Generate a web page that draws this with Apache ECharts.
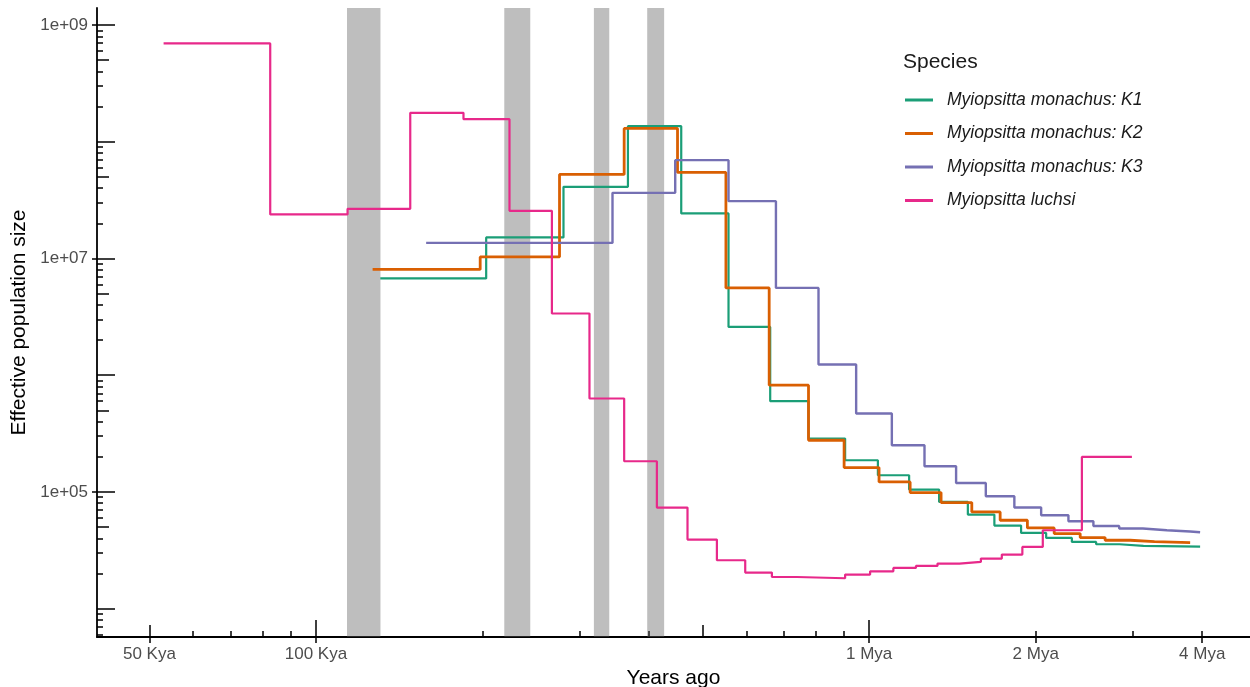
<!DOCTYPE html>
<html>
<head>
<meta charset="utf-8">
<script src="https://cdn.jsdelivr.net/npm/echarts@6/dist/echarts.min.js"></script>
<style>
html,body{margin:0;padding:0;background:#fff;}
#chart{width:1250px;height:687px;}
</style>
</head>
<body>
<div id="chart"></div>
<script>
// ---------------- DATA ----------------
// Step breakpoints (years ago): n+1 edges for n epochs; Ne per epoch
const seriesNames = ['Myiopsitta monachus: K1', 'Myiopsitta monachus: K2', 'Myiopsitta monachus: K3', 'Myiopsitta luchsi'];
const seriesColors = ['#1B9E77', '#D95F02', '#7570B3', '#E7298A'];

const timeK1 = [130700, 203100, 280200, 366400, 457400, 556900, 662400, 776900, 904800, 1037000, 1181000, 1338000, 1508000, 1684000, 1882000, 2089000, 2325000, 2572000, 2834000, 3132000, 3965000];
const neK1 = [6.740e6, 1.514e7, 4.109e7, 1.361e8, 2.430e7, 2.593e6, 5.983e5, 2.866e5, 1.867e5, 1.389e5, 1.047e5, 8.20e4, 6.394e4, 5.147e4, 4.447e4, 4.030e4, 3.723e4, 3.558e4, 3.441e4, 3.401e4];

const timeK2 = [126600, 198100, 275600, 360700, 450400, 550900, 659600, 776900, 901000, 1042000, 1186000, 1349000, 1533000, 1725000, 1932000, 2160000, 2407000, 2670000, 2964000, 3279000, 3804000];
const neK2 = [8.050e6, 1.032e7, 5.248e7, 1.301e8, 5.459e7, 5.597e6, 8.206e5, 2.771e5, 1.617e5, 1.217e5, 9.87e4, 8.10e4, 6.731e4, 5.714e4, 4.909e4, 4.395e4, 4.061e4, 3.851e4, 3.753e4, 3.680e4];

const timeK3 = [158200, 343600, 446100, 556900, 678400, 809900, 947300, 1099000, 1259000, 1436000, 1625000, 1830000, 2046000, 2292000, 2543000, 2831000, 3124000, 3452000, 3804000, 3965000];
const neK3 = [1.360e7, 3.650e7, 6.958e7, 3.099e7, 5.597e6, 1.234e6, 4.694e5, 2.511e5, 1.659e5, 1.193e5, 9.177e4, 7.344e4, 6.306e4, 5.603e4, 5.107e4, 4.852e4, 4.691e4, 4.573e4, 4.510e4];

const timeLuchsi = [53040, 82670, 114060, 148070, 184800, 223800, 267000, 312200, 360700, 413300, 469500, 530600, 597000, 667100, 740300, 904800, 1004000, 1106000, 1215000, 1329000, 1456000, 1592000, 1737000, 1892000, 2060000, 2424000, 2985000];
const neLuchsi = [6.96e8, 2.384e7, 2.662e7, 1.770e8, 1.563e8, 2.559e7, 3.378e6, 6.31e5, 1.831e5, 7.344e4, 3.905e4, 2.595e4, 2.035e4, 1.866e4, 1.819e4, 1.956e4, 2.088e4, 2.229e4, 2.319e4, 2.432e4, 2.510e4, 2.685e4, 2.904e4, 3.375e4, 4.691e4, 1.993e5];

// Shaded periods (years ago)
const bandStarts = [113800, 219000, 318000, 397000];
const bandEnds = [130800, 244000, 339000, 426000];

// Axis ticks / labels
const xLabelValues = [50000, 100000, 1000000, 2000000, 4000000];
const xLabelTexts = ['50 Kya', '100 Kya', '1 Mya', '2 Mya', '4 Mya'];
const yLabelValues = [1e5, 1e7, 1e9];
const yLabelTexts = ['1e+05', '1e+07', '1e+09'];

const xMin = 40200, xMax = 4880000;
const yMin = 5710, yMax = 1.4e9;

// ---------------- BUILD ----------------
function minorTicks(lo, hi, mults) {
  const out = [];
  for (let e = 3; e <= 9; e++) {
    for (const m of mults) {
      const v = m * Math.pow(10, e);
      if (v >= lo && v <= hi) out.push(v);
    }
  }
  return out;
}
const decadeMult = [1], fiveMult = [5], otherMult = [2, 3, 4, 6, 7, 8, 9];

function stepData(times, ne) {
  return times.map((t, i) => [t, ne[Math.min(i, ne.length - 1)]]);
}
function lookup(values, texts) {
  return function (v) {
    for (let i = 0; i < values.length; i++) {
      if (Math.abs(Math.log10(v) - Math.log10(values[i])) < 1e-4) return texts[i];
    }
    return '';
  };
}

const FONT = '"Liberation Sans", Arial, Helvetica, sans-serif';
const tickStyle = { color: '#000', width: 1.5 };

function extraAxis(kind, ticks, len) {
  return {
    type: 'log', logBase: 10,
    min: kind === 'x' ? xMin : yMin, max: kind === 'x' ? xMax : yMax,
    position: kind === 'x' ? 'bottom' : 'left', offset: 0,
    axisLine: { show: false, onZero: false },
    axisTick: { show: true, inside: true, length: len, customValues: ticks, lineStyle: tickStyle },
    axisLabel: { show: false },
    splitLine: { show: false }, minorTick: { show: false }, minorSplitLine: { show: false }
  };
}

const xAxes = [
  {
    type: 'log', logBase: 10, min: xMin, max: xMax, position: 'bottom',
    name: 'Years ago', nameLocation: 'middle', nameGap: 27,
    nameTextStyle: { fontSize: 21, color: '#000', fontFamily: FONT },
    axisLine: { show: true, onZero: false, lineStyle: { color: '#000', width: 1.8 } },
    axisTick: { show: true, inside: false, length: 6, customValues: xLabelValues, lineStyle: tickStyle },
    axisLabel: { customValues: xLabelValues, formatter: lookup(xLabelValues, xLabelTexts), fontSize: 17, color: '#4d4d4d', fontFamily: FONT, margin: 9 },
    splitLine: { show: false }, minorTick: { show: false }
  },
  extraAxis('x', minorTicks(xMin, xMax, decadeMult), 17),
  extraAxis('x', minorTicks(xMin, xMax, fiveMult), 12),
  extraAxis('x', minorTicks(xMin, xMax, otherMult), 6)
];
const yAxes = [
  {
    type: 'log', logBase: 10, min: yMin, max: yMax, position: 'left',
    name: 'Effective population size', nameLocation: 'middle', nameGap: 64,
    nameTextStyle: { fontSize: 21, color: '#000', fontFamily: FONT },
    axisLine: { show: true, onZero: false, lineStyle: { color: '#000', width: 1.8 } },
    axisTick: { show: true, inside: false, length: 5, customValues: yLabelValues, lineStyle: tickStyle },
    axisLabel: { customValues: yLabelValues, formatter: lookup(yLabelValues, yLabelTexts), fontSize: 17, color: '#4d4d4d', fontFamily: FONT, margin: 9 },
    splitLine: { show: false }, minorTick: { show: false }
  },
  extraAxis('y', minorTicks(yMin, yMax, decadeMult), 18),
  extraAxis('y', minorTicks(yMin, yMax, fiveMult), 12),
  extraAxis('y', minorTicks(yMin, yMax, otherMult), 6)
];

const allTimes = [timeK1, timeK2, timeK3, timeLuchsi];
const allNe = [neK1, neK2, neK3, neLuchsi];
const widths = [2.2, 2.8, 2.4, 2.2];

const series = seriesNames.map((name, i) => ({
  name: name, type: 'line', step: 'end', showSymbol: false, symbol: 'none',
  data: stepData(allTimes[i], allNe[i]),
  lineStyle: { color: seriesColors[i], width: widths[i] },
  itemStyle: { color: seriesColors[i] },
  z: 3 + i, silent: true, animation: false
}));
series.push({
  name: 'bands', type: 'line', data: [], z: 20, silent: true,
  markArea: {
    silent: true,
    itemStyle: { color: 'rgba(92,92,92,0.4)' },
    data: bandStarts.map((s, i) => [{ xAxis: s }, { xAxis: bandEnds[i] }])
  }
});

const option = {
  animation: false,
  backgroundColor: '#fff',
  textStyle: { fontFamily: FONT },
  grid: { left: 97, right: 0, top: 8, bottom: 50, containLabel: false, outerBoundsMode: 'none' },
  title: {
    text: 'Species', left: 903, top: 52, padding: 0,
    textStyle: { fontSize: 21, fontWeight: 'normal', color: '#1a1a1a', fontFamily: FONT }
  },
  legend: {
    data: seriesNames, orient: 'vertical', left: 905, top: 90, padding: 0,
    itemWidth: 28, itemHeight: 3, itemGap: 13.5, icon: 'rect',
    selectedMode: false,
    textStyle: { fontSize: 17.5, fontStyle: 'italic', color: '#1a1a1a', fontFamily: FONT, lineHeight: 20, padding: [0, 0, 0, 9] }
  },
  xAxis: xAxes,
  yAxis: yAxes,
  series: series
};

const chart = echarts.init(document.getElementById('chart'), null, { renderer: 'canvas' });
chart.setOption(option);
</script>
</body>
</html>
